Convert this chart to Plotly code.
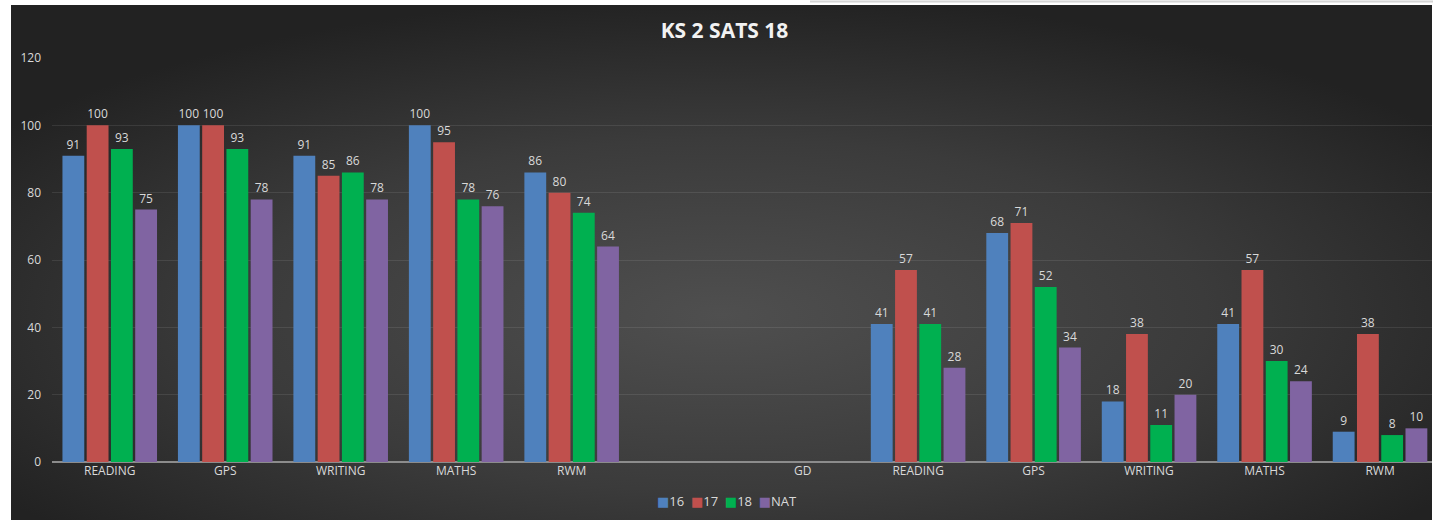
import base64
import plotly.graph_objects as go

categories = ["READING", "GPS", "WRITING", "MATHS", "RWM", "", "GD",
              "READING", "GPS", "WRITING", "MATHS", "RWM"]
s16 = [91, 100, 91, 100, 86, None, None, 41, 68, 18, 41, 9]
s17 = [100, 100, 85, 95, 80, None, None, 57, 71, 38, 57, 38]
s18 = [93, 93, 86, 78, 74, None, None, 41, 52, 11, 30, 8]
nat = [75, 78, 78, 76, 64, None, None, 28, 34, 20, 24, 10]
series = [("16", s16, "#4F81BD"), ("17", s17, "#C0504D"),
          ("18", s18, "#00B050"), ("NAT", nat, "#8064A2")]
y_ticks = [0, 20, 40, 60, 80, 100, 120]

W, H = 1433, 520
L, R, T, B = 52, 1, 58, 58
pw, ph = W - L - R, H - T - B

def px_x(p):  # page px -> paper
    return (p - L) / pw

def px_y(p):
    return (H - B - p) / ph

xs = list(range(len(categories)))
FONT = "Open Sans, Noto Sans, DejaVu Sans, sans-serif"
LBL = "#d9d9d9"

fig = go.Figure()
for name, vals, col in series:
    fig.add_trace(go.Bar(
        x=xs, y=vals, name=name, marker=dict(color=col, line=dict(width=0)),
        text=[("" if v is None else str(v)) for v in vals],
        textposition="outside", constraintext="none", cliponaxis=False,
        textfont=dict(color=LBL, size=12, family=FONT),
        hoverinfo="skip", showlegend=False))

svg = ('<svg xmlns="http://www.w3.org/2000/svg" width="1000" height="400" viewBox="0 0 1000 400" preserveAspectRatio="none">'
       '<defs><radialGradient id="g" cx="0.5" cy="0.6" r="0.62" gradientUnits="objectBoundingBox">'
       '<stop offset="0" stop-color="#4f4f4f"/><stop offset="0.55" stop-color="#3b3b3b"/>'
       '<stop offset="1" stop-color="#222222"/></radialGradient></defs>'
       '<rect width="1000" height="400" fill="url(#g)"/></svg>')
uri = "data:image/svg+xml;base64," + base64.b64encode(svg.encode()).decode()

x0, x1 = px_x(11), px_x(1432)
y0, y1 = px_y(5), px_y(522)
fig.add_layout_image(dict(source=uri, xref="paper", yref="paper",
                          x=x0, y=y0, sizex=x1 - x0, sizey=y0 - y1,
                          xanchor="left", yanchor="top", sizing="stretch",
                          layer="below"))
fig.add_shape(type="line", xref="paper", yref="paper",
              x0=px_x(810), x1=px_x(1433), y0=px_y(1.5), y1=px_y(1.5),
              line=dict(color="#d4d4d4", width=2))

legend_txt = "  ".join(
    f'<span style="color:{col}">■</span>{name}' for name, _, col in series)
fig.add_annotation(text=legend_txt, xref="paper", yref="paper",
                   x=px_x(727), y=px_y(501), xanchor="center", yanchor="middle",
                   showarrow=False, font=dict(color=LBL, size=13, family=FONT))

fig.update_layout(
    width=W, height=H,
    margin=dict(l=L, r=R, t=T, b=B),
    paper_bgcolor="white", plot_bgcolor="rgba(0,0,0,0)",
    barmode="group", bargap=0.16, bargroupgap=0.1,
    title=dict(text="<b>KS 2 SATS 18</b>", x=724.5 / W, xref="container",
               xanchor="center", y=1 - 30.5 / H, yref="container",
               yanchor="middle",
               font=dict(color="#f2f2f2", size=21, family=FONT)),
    font=dict(family=FONT, color=LBL, size=12),
    showlegend=False,
    xaxis=dict(range=[-0.5, 11.45], tickmode="array", tickvals=xs,
               ticktext=categories, showgrid=False, zeroline=False,
               showline=False, ticks="", tickfont=dict(color=LBL, size=12),
               fixedrange=True),
    yaxis=dict(range=[0, 120], tickmode="array", tickvals=y_ticks,
               showgrid=True, gridcolor="rgba(255,255,255,0.09)", gridwidth=1,
               zeroline=True, zerolinecolor="#8c8c8c", zerolinewidth=2,
               showline=False, ticks="", ticklabelstandoff=10,
               tickfont=dict(color=LBL, size=12), fixedrange=True),
)

fig.write_html("out.html", config={"displayModeBar": False},
               post_script="document.body.style.margin='0';"
                           "document.body.style.overflow='hidden';")
